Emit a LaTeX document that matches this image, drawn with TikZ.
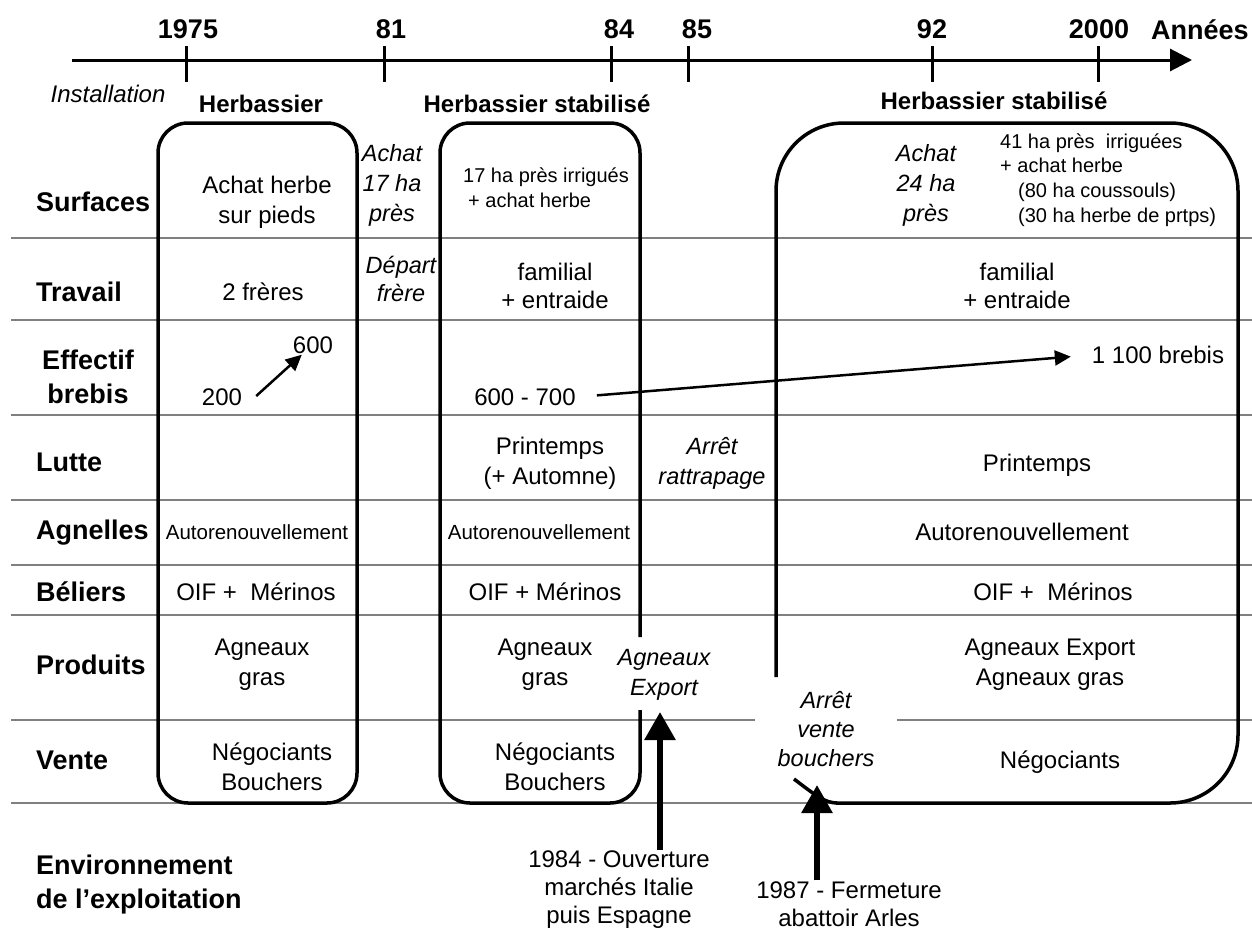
\documentclass[tikz,border=0pt]{standalone}
\usepackage{fontspec}
\setmainfont{Liberation Sans}
\usetikzlibrary{arrows.meta,calc}
\begin{document}
\begin{tikzpicture}[x=1pt,y=-1pt,
  body/.style={font=\fontsize{24}{30}\selectfont, align=center, inner sep=1pt},
  smallb/.style={font=\fontsize{20.5}{24}\selectfont, align=center, inner sep=1pt},
  sm/.style={font=\fontsize{20}{24.7}\selectfont, align=left, inner sep=1pt, anchor=west},
  ital/.style={font=\fontsize{23.5}{30}\selectfont\itshape, align=center, inner sep=1pt},
  rowlab/.style={font=\fontsize{27}{34}\selectfont\bfseries, anchor=west, align=left, inner sep=0pt},
  year/.style={font=\fontsize{27}{30}\selectfont\bfseries, inner sep=0pt},
  phase/.style={font=\fontsize{24}{30}\selectfont\bfseries, inner sep=0pt},
  boxline/.style={line width=3.5pt, rounded corners=30pt},
  rowline/.style={line width=1.8pt, black!50},
  tline/.style={line width=3pt},
  sarrow/.style={line width=2.5pt, -{Triangle[length=16pt,width=15pt]}},
  bigarrow/.style={line width=6pt, -{Triangle[length=28pt,width=30pt]}}
]
\useasboundingbox (0,0) rectangle (1252,932);

% row separators
\foreach \y in {238,320,415,500,565,803}
  \draw[rowline] (11,\y) -- (1252,\y);
\draw[rowline, line width=2.4pt] (11,615) -- (1252,615);
\draw[rowline] (11,720) -- (755,720);
\draw[rowline] (897,720) -- (1252,720);

% timeline
\coordinate (tl0) at (72,60);
\coordinate (tl1) at (1192,60);
\draw[tline, -{Triangle[length=22pt,width=22pt]}] (tl0) -- (tl1);
\foreach \x in {186,384,611,688,932,1098}
  \draw[tline] (\x,46) -- (\x,82);
\node[year] (y75) at (188,29) {1975};
\node[year] (y81) at (391,29) {81};
\node[year] (y84) at (619,29) {84};
\node[year] (y85) at (697,29) {85};
\node[year] (y92) at (932,29) {92};
\node[year] (y00) at (1099,29) {2000};
\node[year, anchor=west] (ann) at (1151,30) {Années};

% phase headers
\node[font=\fontsize{24}{30}\selectfont\itshape, inner sep=0pt] (inst) at (108,94) {Installation};
\node[phase] (ph1) at (261,104) {Herbassier};
\node[phase] (ph2) at (537,104) {Herbassier stabilisé};
\node[phase] (ph3) at (994,101) {Herbassier stabilisé};

% boxes
\draw[boxline] (158,123) rectangle (357,803);
\draw[boxline] (640,637) -- (640,123) -- (440,123) -- (440,803) -- (640,803) -- (640,710);
\draw[boxline, rounded corners=68pt] (776,677) -- (776,123) -- (1238,123) -- (1238,803) -- (836,803);
\draw[line width=3.5pt] (837,803) .. controls (825,803) and (815,795) .. (794,779);

% row labels
\node[rowlab] (rSurf) at (36,202) {Surfaces};
\node[rowlab] (rTrav) at (36,292) {Travail};
\node[rowlab, anchor=center, align=center] (rEff) at (88,377) {Effectif\\brebis};
\node[rowlab] (rLut) at (36,462) {Lutte};
\node[rowlab] (rAgn) at (36,533) {Agnelles};
\node[rowlab] (rBel) at (36,592) {Béliers};
\node[rowlab] (rProd) at (36,665) {Produits};
\node[rowlab] (rVen) at (36,760) {Vente};
\node[rowlab] (rEnv) at (36,885) {Environnement\\de l’exploitation};

% Surfaces
\node[body] (s1) at (267,202) {Achat herbe\\sur pieds};
\node[ital] (s12) at (392,185) {Achat\\17 ha\\près};
\node[sm] (s2) at (462,188) {17 ha près irrigués\\\hspace*{5pt}+ achat herbe};
\node[ital] (s3a) at (926,185) {Achat\\24 ha\\près};
\node[sm] (s3b) at (999,180) {41 ha près\ \ irriguées\\+ achat herbe\\\hspace*{18pt}(80 ha coussouls)\\\hspace*{18pt}(30 ha herbe de prtps)};

% Travail
\node[body] (t1) at (263,292) {2 frères};
\node[ital, font=\fontsize{23.5}{28}\selectfont\itshape] (t12) at (401,279) {Départ\\frère};
\node[body, font=\fontsize{24}{28}\selectfont] (t2) at (555,286) {familial\\+ entraide};
\node[body, font=\fontsize{24}{28}\selectfont] (t3) at (1017,286) {familial\\+ entraide};

% Effectif
\node[body] (n200) at (222,397) {200};
\node[body] (n600) at (313,345) {600};
\node[body] (n600700) at (525,397) {600 - 700};
\node[body] (n1100) at (1158,355) {1 100 brebis};
\draw[sarrow] ($(n200.east)+(13,-1)$) -- ($(n600.south west)+(10,0)$);
\draw[sarrow, shorten <=20pt, shorten >=20pt] (n600700.east) -- (n1100.west);

% Lutte
\node[body] (l2) at (550,463) {Printemps\\(+ Automne)};
\node[ital] (l23) at (712,463) {Arrêt\\rattrapage};
\node[body] (l3) at (1037,465) {Printemps};

% Agnelles
\node[smallb] (a1) at (257,532) {Autorenouvellement};
\node[smallb] (a2) at (539,532) {Autorenouvellement};
\node[body] (a3) at (1022,532) {Autorenouvellement};

% Béliers
\node[body] (b1) at (256,592) {OIF +\ \ Mérinos};
\node[body] (b2) at (545,592) {OIF + Mérinos};
\node[body] (b3) at (1053,592) {OIF +\ \ Mérinos};

% Produits
\node[body] (p1) at (262,665) {Agneaux\\gras};
\node[body] (p2) at (545,665) {Agneaux\\gras};
\node[ital] (p23) at (664,675) {Agneaux\\Export};
\node[body] (p3) at (1050,665) {Agneaux Export\\Agneaux gras};

% Vente
\node[body] (v1) at (272,767) {Négociants\\Bouchers};
\node[body] (v2) at (555,767) {Négociants\\Bouchers};
\node[ital, font=\fontsize{23.5}{29}\selectfont\itshape] (v23) at (826,729) {Arrêt\\vente\\bouchers};
\node[body] (v3) at (1060,762) {Négociants};

% Environnement
\node[body, font=\fontsize{24}{28}\selectfont] (e84) at (619,890) {1984 - Ouverture\\marchés Italie\\puis Espagne};
\node[body, font=\fontsize{24}{28}\selectfont] (e87) at (849,904) {1987 - Fermeture\\abattoir Arles};
\coordinate (a84t) at (660,712);
\coordinate (a87t) at (817,785);
\draw[bigarrow] (e84.north -| a84t) -- (a84t);
\draw[bigarrow] (e87.north -| a87t) -- (a87t);
\end{tikzpicture}
\end{document}
